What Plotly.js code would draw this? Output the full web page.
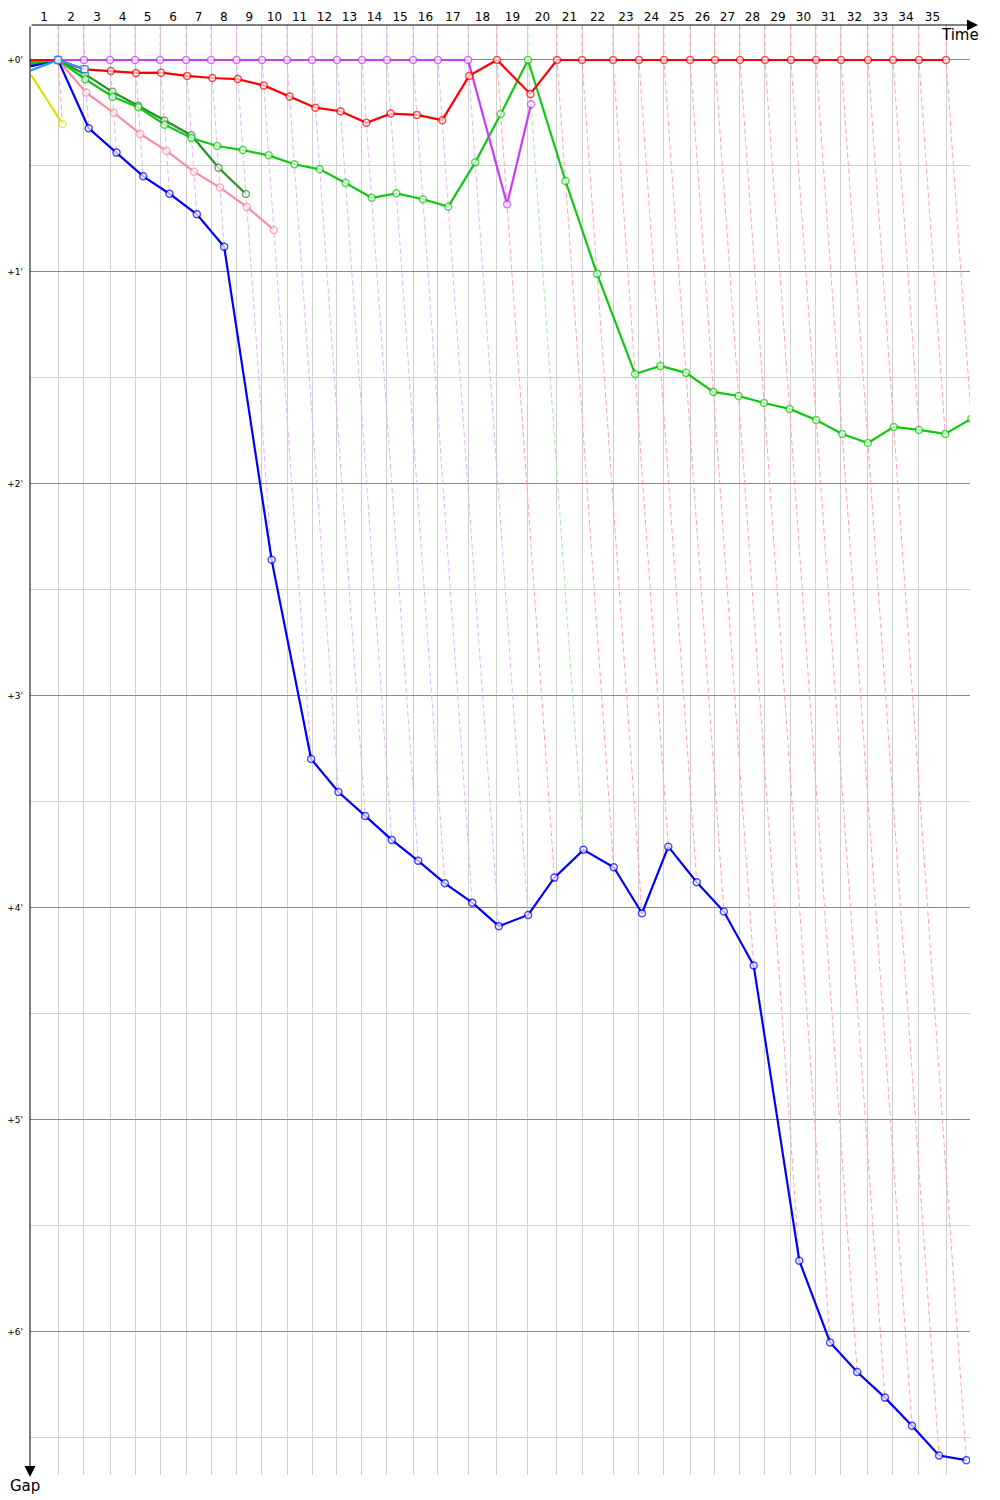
<!DOCTYPE html>
<html><head><meta charset="utf-8">
<script src="https://cdn.plot.ly/plotly-3.0.1.min.js"></script>
<style>html,body{margin:0;padding:0;background:#fff}#chart{width:1000px;height:1500px}</style>
</head><body><div id="chart"></div>
<script>
// Lap labels shown along the top (time) axis
const lapLabels = ["1","2","3","4","5","6","7","8","9","10","11","12","13","14","15","16","17","18",
  "19","20","21","22","23","24","25","26","27","28","29","30","31","32","33","34","35"];

// Race time (minutes) at which the leader completed each lap; index 0 = start
const leaderTime = [0, 1.88, 3.62, 5.37, 7.05, 8.73, 10.47, 12.15, 13.86, 15.57, 17.25, 18.93,
  20.60, 22.28, 23.96, 25.71, 27.38, 29.40, 31.34, 33.42, 35.37, 37.05, 39.13, 40.87, 42.55,
  44.30, 45.97, 47.65, 49.33, 51.07, 52.75, 54.43, 56.24, 57.92, 59.66, 61.48];

// Gap to the leader (minutes) at the end of each lap; index 0 = start
const gapRed = [0, 0, 0.044, 0.052, 0.061, 0.060, 0.075, 0.085, 0.090, 0.120, 0.172, 0.225, 0.242,
  0.296, 0.253, 0.259, 0.284, 0.075, 0, 0.160, 0, 0, 0, 0, 0, 0, 0, 0, 0, 0, 0, 0, 0, 0, 0, 0];
const gapPurple = [0.004, 0, 0, 0, 0, 0, 0, 0, 0, 0, 0, 0, 0, 0, 0, 0, 0, 0, 0.681, 0.209];
const gapGreen = [0.015, 0, 0.091, 0.173, 0.223, 0.305, 0.368, 0.406, 0.425, 0.450, 0.492, 0.516,
  0.580, 0.650, 0.629, 0.657, 0.692, 0.483, 0.255, 0, 0.571, 1.009, 1.481, 1.443, 1.476, 1.566,
  1.585, 1.618, 1.646, 1.698, 1.764, 1.807, 1.731, 1.745, 1.764, 1.693];
const gapDarkGreen = [0.02, 0, 0.067, 0.150, 0.216, 0.286, 0.355, 0.508, 0.632];
const gapPink = [0.01, 0, 0.154, 0.249, 0.349, 0.429, 0.527, 0.602, 0.693, 0.802];
const gapBlue = [0.03, 0, 0.322, 0.437, 0.549, 0.631, 0.728, 0.881, 2.358, 3.297, 3.453, 3.566,
  3.679, 3.778, 3.884, 3.975, 4.086, 4.033, 3.857, 3.726, 3.808, 4.025, 3.711, 3.879, 4.017,
  4.272, 5.664, 6.050, 6.189, 6.310, 6.443, 6.583, 6.605];
const gapYellow = [0.07, 0.302];
const gapCyan = [0.05, 0, 0.044];

const gapTicks = [0, 1, 2, 3, 4, 5, 6];
const gapTickText = ["+0'", "+1'", "+2'", "+3'", "+4'", "+5'", "+6'"];

// ---- styles ----
const carGaps   = [gapRed, gapPurple, gapGreen, gapDarkGreen, gapPink, gapBlue, gapYellow, gapCyan];
const carColors = ["#ff0000", "#c83cf5", "#11c811", "#2b8f2b", "#f78ca8", "#0000ff", "#dede00", "#1e9bff"];
const lapLineColors = ["#ffa6a6", "#e6b2fb", "#a8e8a8", "#b0d4b0", "#fcc8d6", "#a8a8ff", "#eeee90", "#a8d6ff"];
const carSymbols = ["circle", "circle", "circle", "circle", "circle", "circle", "circle", "square"];
const drawOrder = [6, 4, 3, 5, 2, 1, 0, 7];

const X_MAX = 63.09, Y_TOP = -0.165, Y_BOTTOM = 6.675;

const traces = [];
// lap lines (dashed): join every car's crossing of the same lap
for (let n = 1; n < leaderTime.length; n++) {
  const pts = [];
  let leader = -1;
  carGaps.forEach((g, c) => {
    if (g.length > n) {
      pts.push(g[n]);
      if (leader < 0 && g[n] === 0) leader = c;
    }
  });
  pts.sort((a, b) => a - b);
  const xs = [leaderTime[n]], ys = [Y_TOP];
  pts.forEach(g => { xs.push(leaderTime[n] + g); ys.push(g); });
  traces.push({
    x: xs, y: ys, mode: 'lines', hoverinfo: 'skip', showlegend: false,
    line: {color: lapLineColors[leader < 0 ? 0 : leader], width: 1, dash: '5px,3px'}
  });
}
// car traces
drawOrder.forEach(c => {
  const g = carGaps[c];
  const xs = g.map((v, n) => leaderTime[n] + v);
  traces.push({
    x: xs, y: g, mode: 'lines+markers', showlegend: false, hoverinfo: 'skip',
    line: {color: carColors[c], width: 2.2},
    marker: {symbol: carSymbols[c], size: g.map((v, n) => n === 0 ? 0 : 7), color: '#ffffff',
             line: {color: carColors[c], width: 1.5}}
  });
});

const lapMid = lapLabels.map((l, i) => (leaderTime[i] + leaderTime[i + 1]) / 2);
const halfTicks = gapTicks.map(v => v + 0.5);

const layout = {
  width: 1000, height: 1500,
  margin: {l: 30, r: 30, t: 25, b: 25},
  paper_bgcolor: '#ffffff', plot_bgcolor: '#ffffff',
  font: {family: 'DejaVu Sans, sans-serif', color: '#000'},
  showlegend: false,
  xaxis: {
    side: 'top', range: [0, X_MAX], showline: false, zeroline: false,
    tickmode: 'array', tickvals: lapMid, ticktext: lapLabels, ticks: '', showgrid: false,
    tickfont: {size: 12, color: '#000'}, ticklabelstandoff: 1,
    minor: {tickmode: 'array', tickvals: leaderTime.slice(1), showgrid: true, gridcolor: '#cfcfcf', gridwidth: 1, ticks: ''}
  },
  yaxis: {
    range: [Y_BOTTOM, Y_TOP], showline: false, zeroline: false,
    tickmode: 'array', tickvals: gapTicks, ticktext: gapTickText, ticks: '',
    showgrid: true, gridcolor: '#8a8a8a', gridwidth: 1,
    tickfont: {size: 9, color: '#000'}, ticklabelstandoff: 6,
    minor: {tickmode: 'array', tickvals: halfTicks, showgrid: true, gridcolor: '#d3d3d3', gridwidth: 1, ticks: ''}
  },
  annotations: [
    {xref: 'paper', yref: 'paper', x: 948 / 940, y: 1, ax: -948, ay: 0, axref: 'pixel', ayref: 'pixel',
     text: '', showarrow: true, arrowhead: 2, arrowsize: 2.2, arrowwidth: 1, arrowcolor: '#000'},
    {xref: 'paper', yref: 'paper', x: 0, y: -2 / 1450, ax: 0, ay: -1452, axref: 'pixel', ayref: 'pixel',
     text: '', showarrow: true, arrowhead: 2, arrowsize: 2.2, arrowwidth: 1, arrowcolor: '#000'},
    {xref: 'paper', yref: 'paper', x: 930 / 940, y: 1 - 10 / 1450, text: 'Time', showarrow: false,
     xanchor: 'center', yanchor: 'middle', font: {size: 15, color: '#000'}},
    {xref: 'paper', yref: 'paper', x: -5 / 940, y: -11 / 1450, text: 'Gap', showarrow: false,
     xanchor: 'center', yanchor: 'middle', font: {size: 15, color: '#000'}}
  ]
};

Plotly.newPlot('chart', traces, layout, {displayModeBar: false, staticPlot: true});
</script>
</body></html>
